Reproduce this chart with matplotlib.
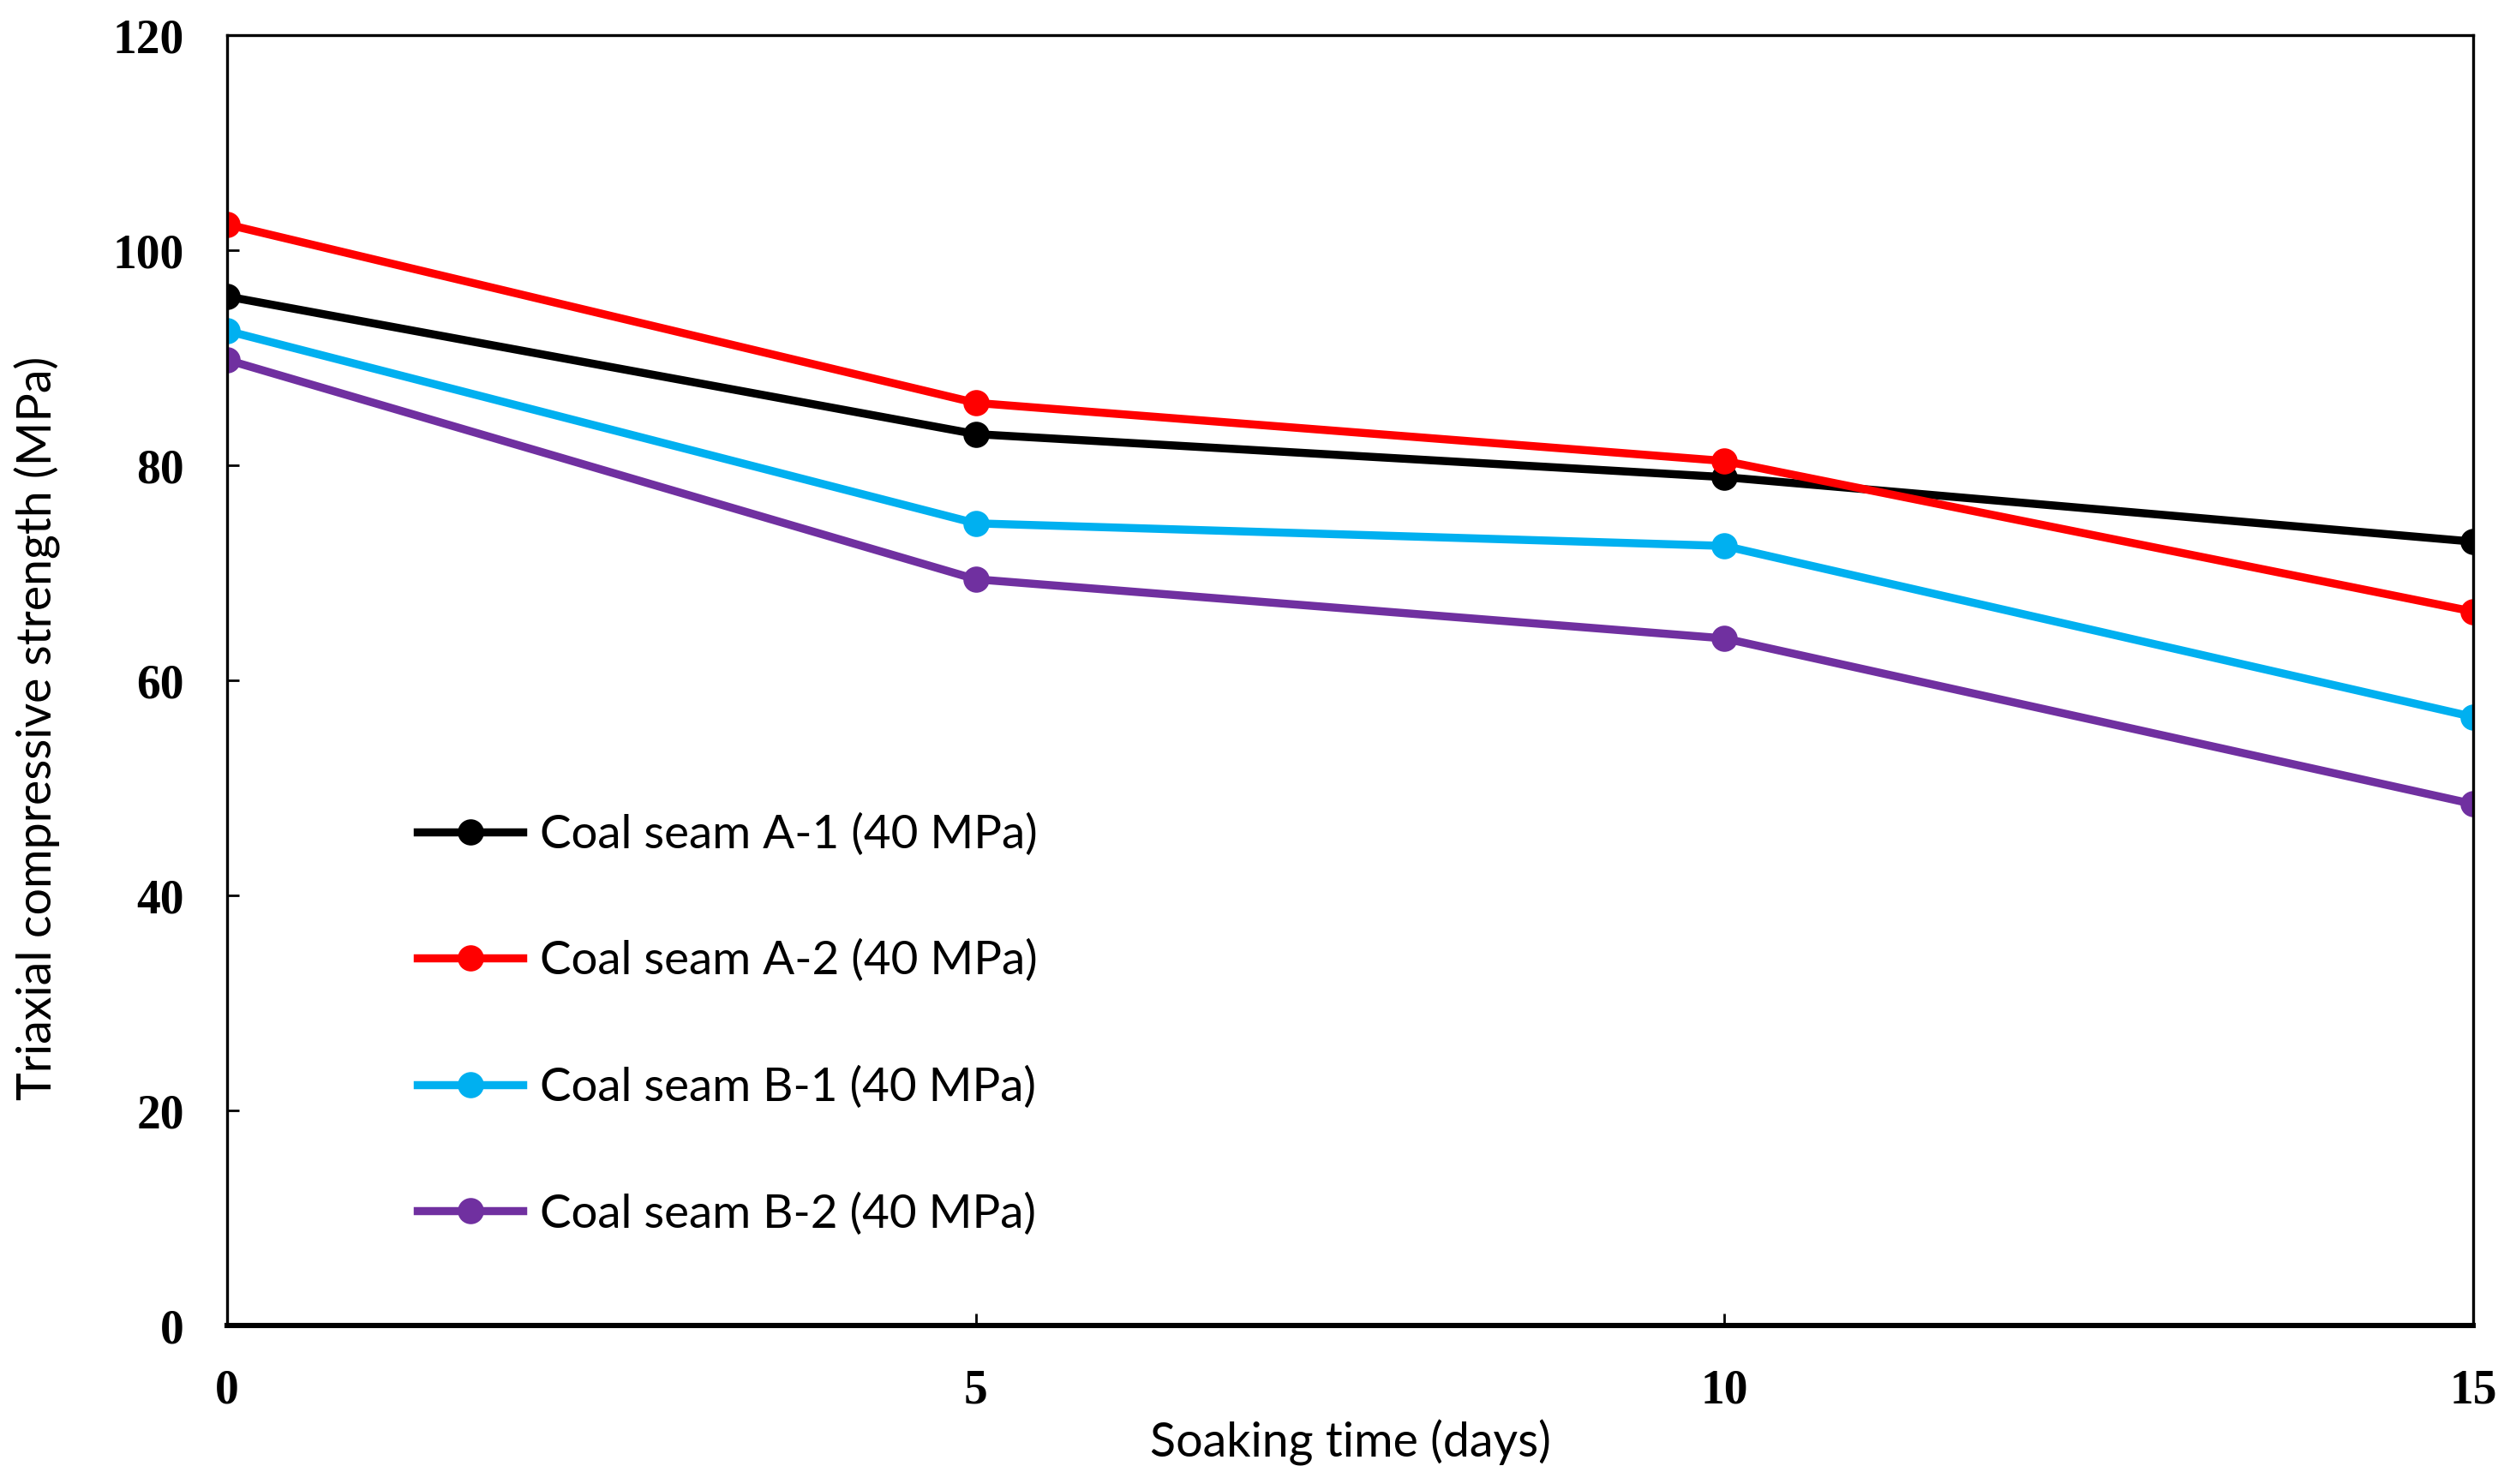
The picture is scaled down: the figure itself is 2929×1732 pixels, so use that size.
import numpy as np
import matplotlib
matplotlib.use("Agg")
import matplotlib.pyplot as plt

# data
days = [0, 5, 10, 15]
seam_a1 = [95.7, 82.9, 78.9, 72.9]
seam_a2 = [102.4, 85.8, 80.4, 66.4]
seam_b1 = [92.5, 74.6, 72.5, 56.6]
seam_b2 = [89.8, 69.4, 63.9, 48.5]
labels = ["Coal seam A-1 (40 MPa)", "Coal seam A-2 (40 MPa)",
          "Coal seam B-1 (40 MPa)", "Coal seam B-2 (40 MPa)"]
colors = ["#000000", "#ff0000", "#00b0f0", "#7030a0"]

fig = plt.figure(figsize=(14.645, 8.66), dpi=200)
ax = fig.add_axes([0.0905, 0.1068, 0.8948, 0.8695])

for ys, lab, c in zip([seam_a1, seam_a2, seam_b1, seam_b2], labels, colors):
    ax.plot(days, ys, "-o", color=c, lw=3.4, ms=10, label=lab)

ax.set_xlim(0, 15)
ax.set_ylim(0, 120)
ax.set_xticks([0, 5, 10, 15])
ax.set_yticks(np.arange(0, 121, 20))

tick_font = dict(family="Liberation Serif", weight="bold", size=20)
ax.set_xticklabels([str(d) for d in [0, 5, 10, 15]], **tick_font)
ax.set_yticklabels([str(v) for v in range(0, 121, 20)], **tick_font)
ax.tick_params(direction="in", length=5, width=1)
ax.tick_params(axis="x", pad=18)
ax.tick_params(axis="y", pad=18)

for s in ["left", "top", "right"]:
    ax.spines[s].set_linewidth(1.2)
ax.spines["bottom"].set_linewidth(2.2)

ax.set_xlabel("Soaking time (days)", family="Lato", size=20)
ax.set_ylabel("Triaxial compressive strength (MPa)", family="Lato", size=20)
ax.xaxis.set_label_coords(0.5, -0.073)
ax.yaxis.set_label_coords(-0.074, 0.463)

leg = ax.legend(loc="upper left", bbox_to_anchor=(0.066, 0.43), frameon=False,
                prop=dict(family="Lato", size=19.7), labelspacing=1.78,
                handlelength=2.25, handletextpad=0.35)

fig.savefig("out.png", dpi=200, facecolor="white")
